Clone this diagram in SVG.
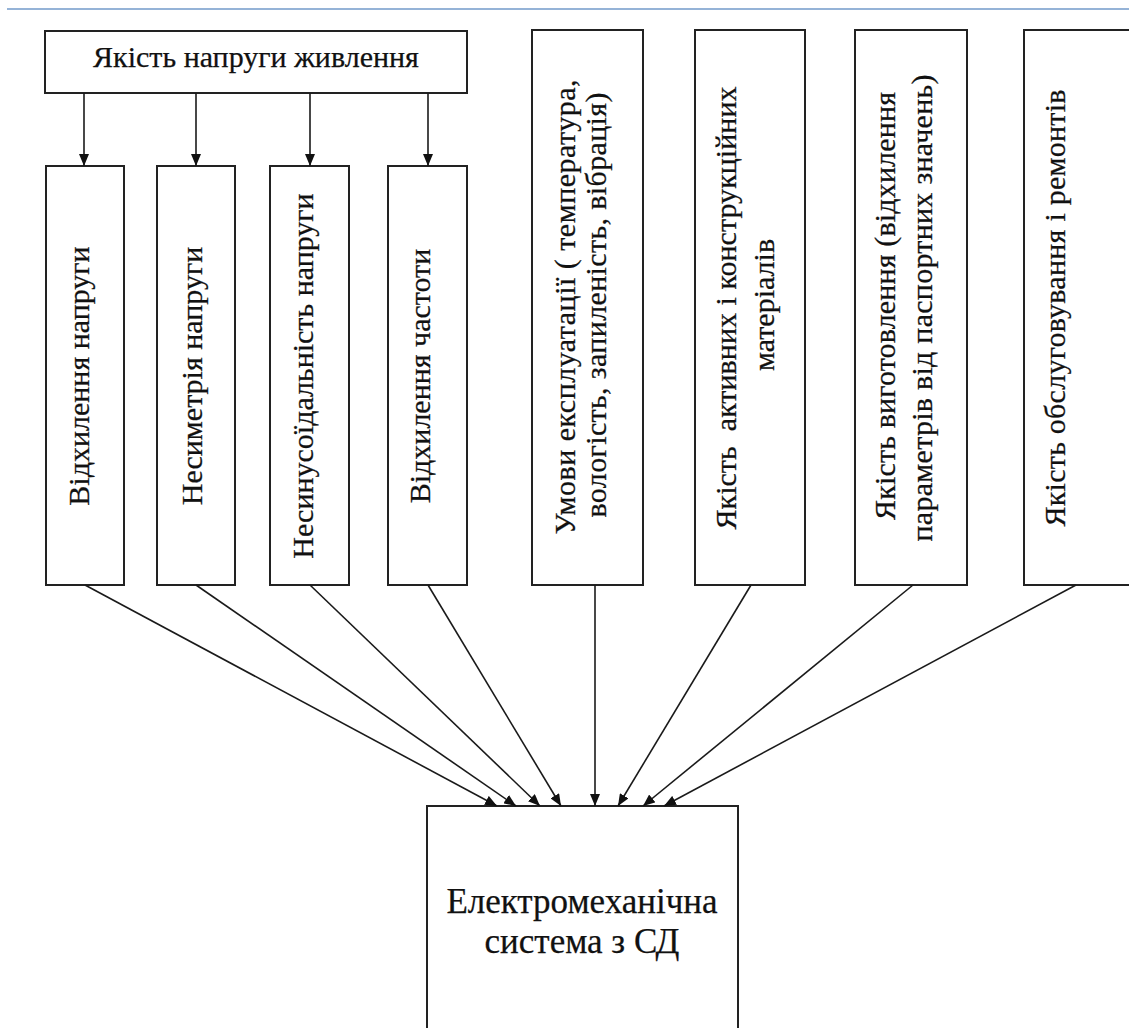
<svg xmlns="http://www.w3.org/2000/svg" width="1129" height="1028" viewBox="0 0 1129 1028">
<defs>
<style>
.box{fill:#fff;stroke:#222;stroke-width:2}
.t{font-family:"Liberation Serif","Times New Roman",serif;fill:#111;stroke:#111;stroke-width:0.25;text-anchor:middle}
.v{font-size:30px}
.c{stroke:#1a1a1a;stroke-width:1.6;fill:none;marker-end:url(#ah)}
</style>
<marker id="ah" markerWidth="12" markerHeight="10" refX="12" refY="5" orient="auto" markerUnits="userSpaceOnUse">
<path d="M0,0 L12,5 L0,10 Z" fill="#111"/>
</marker>
</defs>
<rect width="1129" height="1028" fill="#fff"/>
<line x1="7" y1="9" x2="1129" y2="9" stroke="#95b3d7" stroke-width="2"/>

<g id="n-supply">
<rect class="box" x="45" y="31" width="422" height="62"/>
<text class="t" x="256" y="67" font-size="30">Якість напруги живлення</text>
</g>
<g id="n-voltdev">
<rect class="box" x="46" y="166" width="78" height="419"/>
<text class="t v" transform="translate(89,376) rotate(-90)">Відхилення напруги</text>
</g>
<g id="n-asym">
<rect class="box" x="157" y="166" width="78" height="419"/>
<text class="t v" transform="translate(202,376) rotate(-90)">Несиметрія напруги</text>
</g>
<g id="n-nonsin">
<rect class="box" x="270" y="166" width="79" height="419"/>
<text class="t v" transform="translate(313,376) rotate(-90)">Несинусоїдальність напруги</text>
</g>
<g id="n-freqdev">
<rect class="box" x="388" y="166" width="79" height="419"/>
<text class="t v" transform="translate(430,376) rotate(-90)">Відхилення частоти</text>
</g>
<g id="n-conditions">
<rect class="box" x="532" y="30" width="111" height="555"/>
<text class="t v" transform="translate(575,307) rotate(-90)" textLength="455" lengthAdjust="spacing">Умови експлуатації ( температура,</text>
<text class="t v" transform="translate(606,305) rotate(-90)" textLength="425" lengthAdjust="spacing">вологість, запиленість, вібрація)</text>
</g>
<g id="n-materials">
<rect class="box" x="695" y="30" width="110" height="555"/>
<text class="t v" xml:space="preserve" transform="translate(736,308) rotate(-90)" textLength="443" lengthAdjust="spacing">Якість  активних і конструкційних</text>
<text class="t v" transform="translate(774,305) rotate(-90)">матеріалів</text>
</g>
<g id="n-manufacturing">
<rect class="box" x="855" y="30" width="112" height="555"/>
<text class="t v" transform="translate(895,306) rotate(-90)" textLength="428" lengthAdjust="spacing">Якість виготовлення (відхилення</text>
<text class="t v" transform="translate(932,308) rotate(-90)" textLength="467" lengthAdjust="spacing">параметрів від паспортних значень)</text>
</g>
<g id="n-service">
<rect class="box" x="1024" y="30" width="120" height="555"/>
<text class="t v" transform="translate(1065,308) rotate(-90)" textLength="437" lengthAdjust="spacing">Якість обслуговування і ремонтів</text>
</g>
<g id="n-system">
<rect class="box" x="427" y="806" width="311" height="240"/>
<text class="t" x="582" y="913" font-size="35">Електромеханічна</text>
<text class="t" x="582" y="953" font-size="35">система з СД</text>
</g>

<g id="connectors">
<line class="c" x1="84" y1="93" x2="84" y2="166"/>
<line class="c" x1="196" y1="93" x2="196" y2="166"/>
<line class="c" x1="310" y1="93" x2="310" y2="166"/>
<line class="c" x1="428" y1="93" x2="428" y2="166"/>
<line class="c" x1="85" y1="585" x2="497" y2="806"/>
<line class="c" x1="196" y1="585" x2="516" y2="806"/>
<line class="c" x1="310" y1="585" x2="540" y2="806"/>
<line class="c" x1="428" y1="585" x2="561" y2="806"/>
<line class="c" x1="595" y1="585" x2="595" y2="806"/>
<line class="c" x1="751" y1="585" x2="618" y2="806"/>
<line class="c" x1="913" y1="585" x2="643" y2="806"/>
<line class="c" x1="1076" y1="585" x2="664" y2="806"/>
</g>
</svg>
